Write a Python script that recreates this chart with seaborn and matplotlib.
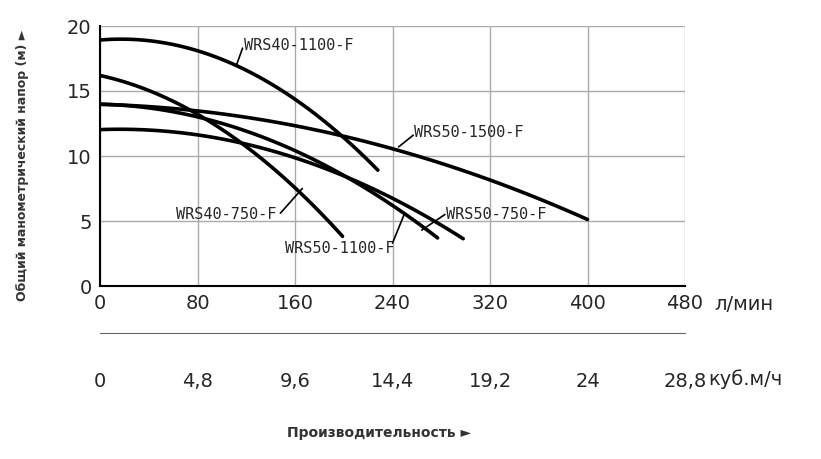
import numpy as np
import matplotlib.pyplot as plt
import seaborn as sns

# flow (l/min) and head (m) per pump model
q_40_1100 = [0, 80, 160, 200, 228]
h_40_1100 = [19.1, 17.6, 14.6, 12.0, 8.4]
q_50_1500 = [0, 80, 160, 240, 320, 400]
h_50_1500 = [14.1, 13.3, 12.2, 10.7, 8.3, 5.0]
q_40_750 = [0, 80, 120, 160, 199]
h_40_750 = [16.2, 13.2, 10.7, 7.6, 3.8]
q_50_1100 = [0, 80, 160, 240, 277]
h_50_1100 = [14.1, 12.8, 10.3, 6.8, 3.3]
q_50_750 = [0, 80, 160, 240, 298]
h_50_750 = [12.1, 11.5, 9.8, 7.0, 3.5]

x_ticks = [0, 80, 160, 240, 320, 400, 480]
m3_labels = ["0", "4,8", "9,6", "14,4", "19,2", "24", "28,8"]

sns.set_style("white")
fig = plt.figure(figsize=(8.21, 4.59), dpi=100)
ax = fig.add_axes([100/821, 1-286/459, 585/821, 260/459])

curves = [(q_40_1100, h_40_1100), (q_50_1500, h_50_1500), (q_40_750, h_40_750),
          (q_50_1100, h_50_1100), (q_50_750, h_50_750)]
for q, h in curves:
    qs = np.linspace(q[0], q[-1], 80)
    hs = np.polyval(np.polyfit(q, h, 2), qs)
    sns.lineplot(x=qs, y=hs, ax=ax, color="black", lw=2.6)

ax.set_xlim(0, 480)
ax.set_ylim(0, 20)
ax.set_xticks(x_ticks)
ax.set_yticks([0, 5, 10, 15, 20])
ax.grid(True, color="#aaaaaa", lw=1)
for s in ["top", "right"]:
    ax.spines[s].set_visible(False)
for s in ["left", "bottom"]:
    ax.spines[s].set_color("black")
    ax.spines[s].set_linewidth(1.5)
ax.tick_params(labelsize=14, length=0, pad=6)

lab = dict(fontsize=11, fontfamily="DejaVu Sans Mono", va="center")
labels = [
    ("WRS40-1100-F", (112, 17.0), (118, 18.5), (117, 18.3)),
    ("WRS50-1500-F", (245, 10.7), (258, 11.8), (257, 11.6)),
    ("WRS40-750-F", (166, 7.5), (62, 5.5), (148, 5.6)),
    ("WRS50-1100-F", (250, 5.6), (152, 2.9), (240, 3.3)),
    ("WRS50-750-F", (264, 4.3), (284, 5.5), (283, 5.5)),
]
for name, p_curve, p_text, p_lead in labels:
    ax.text(*p_text, name, **lab)
    ax.plot([p_curve[0], p_lead[0]], [p_curve[1], p_lead[1]], color="black", lw=1.2)

ax.text(1.05, -0.07, "л/мин", transform=ax.transAxes, fontsize=14, ha="left", va="center")

sec = ax.secondary_xaxis(-0.18, functions=(lambda x: x*0.06, lambda x: x/0.06))
sec.set_xticks([t*0.06 for t in x_ticks])
sec.set_xticklabels(m3_labels)
sec.tick_params(labelsize=14, direction="out", length=0, pad=28)
sec.spines["bottom"].set_color("#666666")
ax.text(1.04, -0.36, "куб.м/ч", transform=ax.transAxes, fontsize=14, ha="left", va="center")

fig.text(0.35, 1-433/459, "Производительность ►", fontsize=10, fontweight="bold", color="#333333", va="center")
fig.text(0.028, 1-165/459, "Общий манометрический напор (м) ►", fontsize=9, fontweight="bold",
         color="#333333", rotation=90, ha="center", va="center")

fig.savefig("out.png", dpi=100)
